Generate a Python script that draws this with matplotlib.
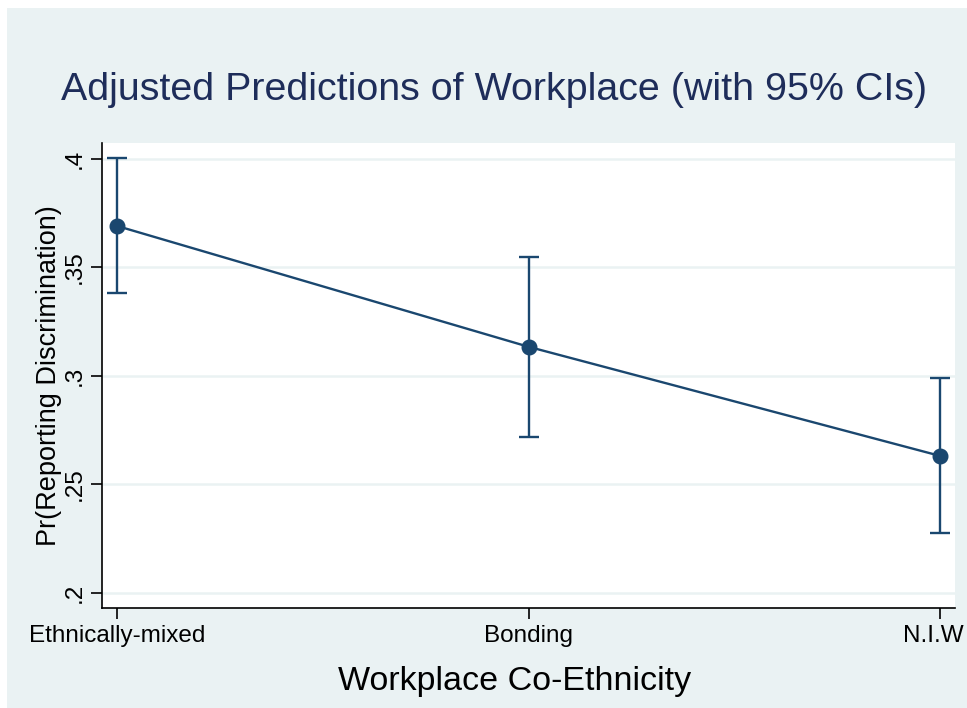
import matplotlib
matplotlib.use("Agg")
import matplotlib.pyplot as plt
from matplotlib.patches import Rectangle

# Adjusted predictions with 95% confidence intervals
categories = ["Ethnically-mixed", "Bonding", "N.I.W"]
predicted = [0.3691, 0.3134, 0.2631]
ci_low = [0.3383, 0.2719, 0.2276]
ci_high = [0.4003, 0.3550, 0.2988]
yticks = [0.2, 0.25, 0.3, 0.35, 0.4]
ytick_labels = [".2", ".25", ".3", ".35", ".4"]

navy = "#1a476f"
bg = "#eaf2f3"
plt.rcParams["font.family"] = ["Liberation Sans", "DejaVu Sans"]

W, H = 967, 708
fig = plt.figure(figsize=(W / 100, H / 100), dpi=100)
fig.patch.set_facecolor("white")
fig.patches.append(Rectangle((7 / W, 0), 1 - 7 / W, 1 - 8 / H,
                             transform=fig.transFigure, facecolor=bg,
                             edgecolor="none", zorder=-10))

ax = fig.add_axes([102 / W, 1 - 608 / H, (955 - 102) / W, (608 - 143) / H])
ax.set_facecolor("white")

x = list(range(len(categories)))
yerr = [[p - l for p, l in zip(predicted, ci_low)],
        [h - p for p, h in zip(predicted, ci_high)]]
ax.errorbar(x, predicted, yerr=yerr, fmt="none", ecolor=navy,
            elinewidth=1.7, capsize=7, capthick=1.7, zorder=3)
ax.plot(x, predicted, color=navy, lw=1.7, marker="o", markersize=10.5,
        markerfacecolor=navy, markeredgecolor=navy, zorder=4)

ax.set_xlim(-0.0372, 2.0365)
ax.set_ylim(0.19294, 0.4074)
ax.set_yticks(yticks)
ax.set_yticklabels(ytick_labels, rotation=90, va="center", fontsize=17.5)
ax.set_xticks(x)
# last category label is drawn separately, nudged left to stay on the canvas
ax.set_xticklabels(categories[:-1] + [""], fontsize=17.5)
ax.annotate(categories[-1], xy=(x[-1], 0), xycoords=("data", "axes fraction"),
            xytext=(-5, -12), textcoords="offset points",
            ha="center", va="top", fontsize=17.5)
ax.grid(axis="y", color=bg, lw=1.8, zorder=0)
ax.set_axisbelow(True)

for s in ["top", "right"]:
    ax.spines[s].set_visible(False)
for s in ["left", "bottom"]:
    ax.spines[s].set_color("black")
    ax.spines[s].set_linewidth(1.2)
ax.tick_params(axis="both", length=8, width=1.2, color="black", pad=4)

ax.set_xlabel("Workplace Co-Ethnicity", fontsize=24.5, labelpad=14)
ax.xaxis.set_label_coords((515 - 102) / (955 - 102), -0.125)
ax.set_ylabel("Pr(Reporting Discrimination)", fontsize=19.5, labelpad=1)

fig.text(0.5 * (60 + 928) / W, 1 - 90 / H,
         "Adjusted Predictions of Workplace (with 95% CIs)",
         ha="center", va="center", fontsize=28.4, color="#1e2d5a")

fig.savefig("out.png", dpi=100, facecolor=fig.get_facecolor())
